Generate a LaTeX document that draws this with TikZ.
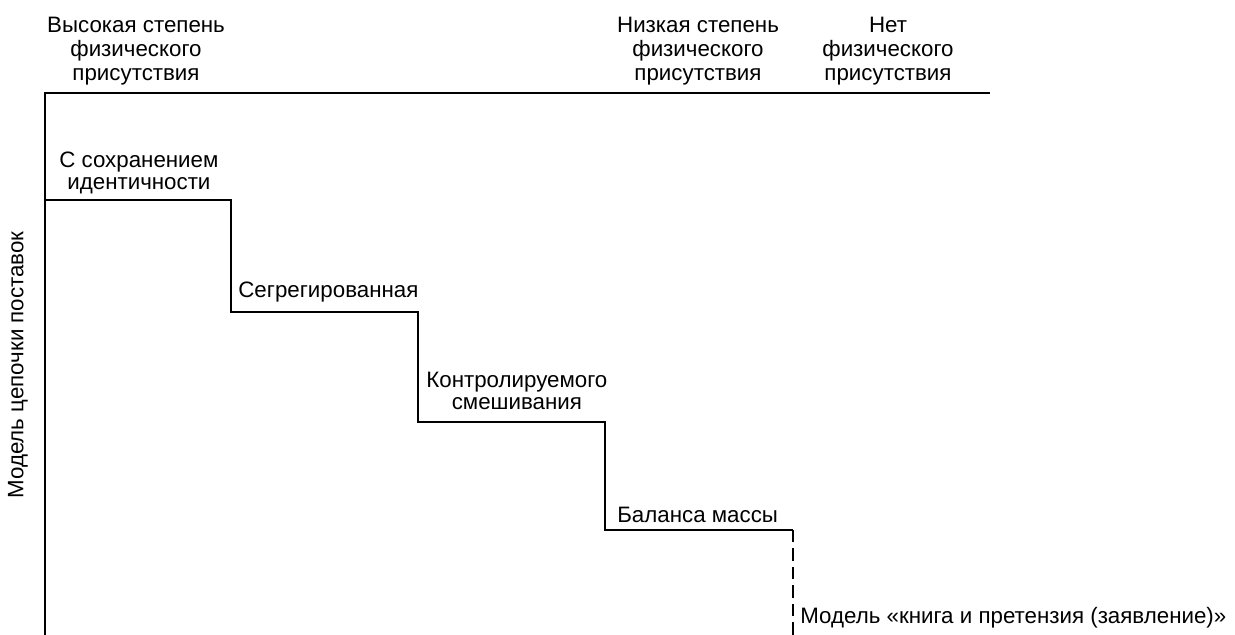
\documentclass[tikz,border=0pt]{standalone}
\usepackage{fontspec}
\setmainfont{Liberation Sans}
\usetikzlibrary{positioning}

\begin{document}
\begin{tikzpicture}[x=0.02cm, y=-0.02cm,
		axis/.style={line width=1.6pt, line join=miter},
		stair/.style={line width=1.6pt, line join=miter},
		model/.style={font=\fontsize{12.7}{12.5}\selectfont, align=center, inner sep=0pt},
		presence/.style={font=\fontsize{12.7}{13.6}\selectfont, align=center, inner sep=0pt}]
		\useasboundingbox (0,0) rectangle (1235,635);
		
		% axes
		\coordinate (origin) at (45, 635);
		\coordinate (corner) at (45, 93);
		\coordinate (axis end) at (990, 93);
		
		\draw [axis] (origin) -- (corner) -- (axis end);
		
		% steps
		\coordinate (s1) at (45, 200);
		\coordinate (s2) at (231, 312);
		\coordinate (s3) at (418, 422);
		\coordinate (s4) at (605, 530);
		\coordinate (s5) at (793, 530);
		\coordinate (s5 bottom) at (793, 635);
		
		\draw [stair] (s1) -| (s2) -| (s3) -| (s4) -- (s5);
		\draw [stair, dash pattern=on 7pt off 3.5pt] (s5) -- (s5 bottom);
		
		\node [presence] (high) at (136, 51) {Высокая степень\\физического\\присутствия};
		\node [presence] (low) at (698, 51) {Низкая степень\\физического\\присутствия};
		\node [presence] (none) at (888, 51) {Нет\\физического\\присутствия};
		
		\node [model, rotate=90] (chain) at (18, 365) {Модель цепочки поставок};
		
		\node [model, anchor=west] (identity) at (59, 173) {С сохранением\\идентичности};
		\node [model, anchor=base west] (segregated) at (238, 297) {Сегрегированная};
		\node [model, anchor=west] (mixing) at (426, 391) {Контролируемого\\смешивания};
		\node [model, anchor=base west] (balance) at (617, 522) {Баланса массы};
		\node [model, anchor=base west] (book) at (800, 623) {Модель «книга и претензия (заявление)»};
	\end{tikzpicture}
\end{document}
